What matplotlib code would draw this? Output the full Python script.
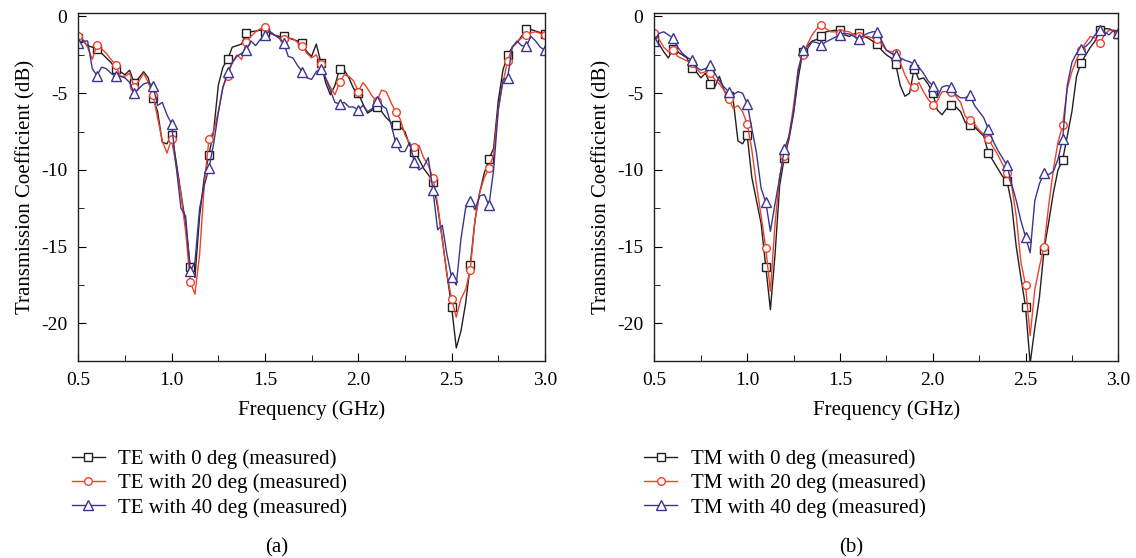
import matplotlib
matplotlib.use("Agg")
import matplotlib.pyplot as plt
from matplotlib.ticker import MultipleLocator
import numpy as np

plt.rcParams["font.family"] = ["Liberation Serif", "DejaVu Serif"]
plt.rcParams["axes.unicode_minus"] = False

# frequency grid, 0.5 .. 3.0 GHz in 0.025 GHz steps
freq = np.linspace(0.5, 3.0, 101)

te_0 = [-1.4, -1.6, -1.9, -2.0, -2.1, -2.4, -2.7, -3.0, -3.4, -3.6, -3.8, -3.5, -4.35, -4.0, -3.6, -4.0,
        -5.3, -6.2, -8.2, -8.3, -7.7, -9.5, -11.5, -13.5, -16.3, -17.0, -13.0, -10.5, -9.0, -7.5, -4.5, -3.3,
        -2.8, -2.0, -1.9, -1.8, -1.05, -1.0, -0.95, -0.9, -1.0, -1.1, -1.2, -1.3, -1.3, -1.4, -1.5, -1.6,
        -1.75, -2.3, -2.6, -1.8, -3.0, -4.3, -5.1, -4.5, -3.4, -3.5, -4.0, -4.7, -5.0, -5.7, -6.3, -6.1,
        -5.9, -6.2, -6.6, -6.9, -7.1, -7.2, -7.5, -8.4, -8.8, -9.3, -9.9, -10.3, -10.8, -12.4, -14.5, -16.8,
        -18.9, -21.6, -20.5, -18.7, -16.2, -13.3, -11.5, -10.2, -9.3, -8.6, -5.5, -3.5, -2.5, -2.0, -1.7, -1.3,
        -0.8, -0.85, -0.95, -1.05, -1.15]
te_20 = [-1.3, -1.5, -2.0, -2.8, -1.85, -2.1, -2.4, -2.8, -3.15, -3.9, -3.9, -3.7, -4.6, -4.2, -3.7, -4.3,
         -5.1, -6.6, -8.1, -8.9, -8.0, -9.8, -11.6, -14.0, -17.3, -18.1, -15.5, -11.0, -8.0, -7.5, -6.2, -4.6,
         -3.85, -3.0, -2.5, -2.8, -1.65, -1.3, -1.0, -0.8, -0.7, -1.0, -1.2, -1.4, -1.5, -1.4, -1.45, -1.7,
         -1.9, -2.4, -2.7, -2.5, -3.1, -4.0, -4.6, -5.1, -4.3, -3.8, -3.9, -4.2, -4.9, -4.3, -4.7, -5.2,
         -5.5, -4.8, -4.9, -5.6, -6.2, -6.7, -7.7, -8.3, -8.5, -8.4, -9.2, -9.7, -10.5, -12.2, -14.5, -16.8,
         -18.4, -19.6, -18.4, -17.8, -16.5, -13.3, -11.5, -10.5, -9.9, -9.0, -6.0, -4.3, -2.9, -2.0, -1.7, -1.4,
         -1.2, -1.05, -1.0, -1.1, -1.2]
te_40 = [-1.7, -1.6, -1.6, -3.4, -3.85, -3.3, -3.4, -3.7, -3.9, -3.9, -4.0, -4.3, -5.0, -4.7, -4.4, -4.3,
         -4.5, -5.8, -5.6, -6.4, -7.0, -9.8, -12.5, -13.0, -16.6, -16.0, -12.5, -11.0, -9.9, -8.3, -6.3, -4.6,
         -3.65, -3.0, -2.6, -2.4, -2.2, -1.6, -1.9, -1.5, -1.2, -0.95, -1.2, -1.4, -1.7, -2.6, -2.7, -3.2,
         -3.6, -4.0, -4.1, -3.6, -3.4, -4.0, -4.8, -5.6, -5.7, -5.6, -5.9, -5.9, -6.1, -5.8, -6.2, -6.0,
         -5.5, -5.8, -6.0, -7.0, -8.2, -8.8, -8.8, -8.2, -9.5, -10.0, -9.8, -9.2, -11.3, -13.9, -13.6, -15.5,
         -17.0, -17.5, -14.5, -12.5, -12.0, -12.6, -11.7, -11.6, -12.3, -10.0, -6.1, -4.1, -4.0, -2.0, -1.6, -1.9,
         -1.95, -1.3, -1.6, -2.0, -2.2]

tm_0 = [-1.5, -1.8, -2.3, -2.7, -2.1, -2.3, -2.5, -2.7, -3.35, -3.6, -4.0, -3.7, -4.4, -4.6, -3.9, -4.8,
        -5.2, -5.5, -8.1, -8.3, -7.75, -10.5, -12.0, -13.5, -16.3, -19.1, -15.5, -11.0, -9.2, -8.0, -6.3, -4.0,
        -2.3, -1.9, -1.6, -1.5, -1.25, -1.0, -0.95, -0.9, -0.85, -1.2, -1.3, -1.15, -1.05, -1.3, -1.4, -1.6,
        -1.8, -2.2, -2.5, -2.7, -3.1, -4.5, -5.2, -5.0, -3.4, -4.1, -4.0, -4.4, -5.0, -6.1, -6.4, -6.0,
        -5.8, -5.9, -6.2, -6.9, -7.1, -7.2, -7.5, -7.8, -8.9, -9.4, -9.9, -10.4, -10.7, -12.2, -15.0, -17.0,
        -18.9, -22.6, -20.3, -18.3, -15.2, -13.4, -11.5, -10.0, -9.35, -7.8, -6.2, -3.9, -3.0, -2.5, -2.0, -1.6,
        -0.9, -0.8, -0.8, -0.95, -1.15]
tm_20 = [-1.1, -1.5, -2.0, -2.3, -2.2, -2.6, -2.75, -2.9, -3.0, -3.4, -3.7, -3.6, -3.7, -4.1, -4.4, -4.8,
         -5.4, -6.0, -5.8, -6.2, -7.0, -8.7, -11.0, -13.0, -15.1, -17.9, -13.5, -10.4, -9.1, -7.8, -5.8, -3.4,
         -2.5, -1.8, -1.2, -0.8, -0.55, -0.8, -1.0, -1.0, -1.05, -0.95, -1.0, -1.2, -1.3, -1.3, -1.3, -1.4,
         -1.5, -1.8, -2.2, -2.3, -2.35, -3.0, -3.8, -4.4, -4.6, -4.3, -4.9, -5.4, -5.75, -5.5, -4.9, -4.9,
         -4.95, -5.2, -5.6, -6.5, -6.75, -7.0, -7.4, -7.7, -8.0, -8.5, -9.0, -9.6, -10.2, -11.0, -13.0, -16.0,
         -17.5, -20.8, -17.8, -16.3, -15.0, -12.3, -10.0, -8.2, -7.1, -4.7, -3.6, -2.8, -2.2, -1.7, -1.3, -1.4,
         -1.75, -1.2, -0.9, -0.9, -1.15]
tm_40 = [-1.6, -1.1, -1.0, -1.2, -1.4, -2.0, -2.4, -2.65, -2.85, -3.3, -3.5, -3.4, -3.15, -3.7, -4.2, -4.6,
         -4.9, -5.1, -4.9, -5.0, -5.7, -7.3, -8.9, -11.2, -12.1, -14.0, -12.2, -10.5, -8.65, -7.8, -6.2, -3.5,
         -2.2, -2.1, -1.65, -1.7, -1.85, -1.65, -1.5, -1.35, -1.2, -1.1, -1.15, -1.3, -1.45, -1.25, -1.1, -1.0,
         -0.98, -1.6, -2.2, -2.4, -2.5, -2.7, -2.85, -2.95, -3.1, -3.3, -3.7, -4.2, -4.5, -5.25, -4.6, -4.5,
         -4.6, -5.1, -5.3, -5.3, -5.1, -5.8, -6.2, -6.6, -7.35, -8.1, -8.7, -9.2, -9.7, -10.9, -12.0, -13.3,
         -14.35, -15.4, -12.0, -10.9, -10.2, -10.3, -10.1, -9.3, -8.0, -4.5, -3.0, -2.4, -2.1, -1.95, -1.65, -1.2,
         -0.85, -1.0, -1.2, -0.9, -1.05]

angles = ["0", "20", "40"]
colors = ["#231f20", "#f0412a", "#3a3590"]
markers = ["s", "o", "^"]

fig = plt.figure(figsize=(11.36, 5.58), dpi=100)
ax_a = fig.add_axes([0.0689, 0.353, 0.4108, 0.623])
ax_b = fig.add_axes([0.5761, 0.353, 0.4083, 0.623])

panels = [(ax_a, "TE", [te_0, te_20, te_40], "(a)", 0.063), (ax_b, "TM", [tm_0, tm_20, tm_40], "(b)", 0.567)]
for ax, mode, series, tag, leg_x in panels:
    for vals, ang, c, m in zip(series, angles, colors, markers):
        ax.plot(freq, vals, color=c, lw=1.0, marker=m, markevery=4, ms=6.5 if m == "^" else 5.5,
                mfc="white", mec=c, mew=1.0, label=f"{mode} with {ang} deg (measured)")
    ax.set_xlim(0.5, 3.0)
    ax.set_ylim(-22.45, 0.2)
    ax.xaxis.set_major_locator(MultipleLocator(0.5))
    ax.xaxis.set_minor_locator(MultipleLocator(0.25))
    ax.yaxis.set_major_locator(MultipleLocator(5))
    ax.yaxis.set_minor_locator(MultipleLocator(2.5))
    ax.xaxis.set_major_formatter(plt.FormatStrFormatter("%.1f"))
    ax.tick_params(which="both", direction="in", top=False, right=False, labelsize=14, pad=8)
    ax.tick_params(which="major", length=6)
    ax.tick_params(which="minor", length=4)
    for s in ax.spines.values():
        s.set_linewidth(1.0)
        s.set_color("#231f20")
    ax.set_xlabel("Frequency (GHz)", fontsize=15, labelpad=8)
    ax.set_ylabel("Transmission Coefficient (dB)", fontsize=15, labelpad=4)
    pos = ax.get_position()
    ax.legend(loc="upper left", bbox_to_anchor=(leg_x, 0.195), bbox_transform=fig.transFigure,
              frameon=False, fontsize=15, handlelength=1.6, handletextpad=0.65, labelspacing=0.22,
              borderaxespad=0, borderpad=0)
    fig.text(pos.x0 + pos.width * 0.425, 0.01, tag, fontsize=15, ha="center")

fig.savefig("out.png", dpi=100)
